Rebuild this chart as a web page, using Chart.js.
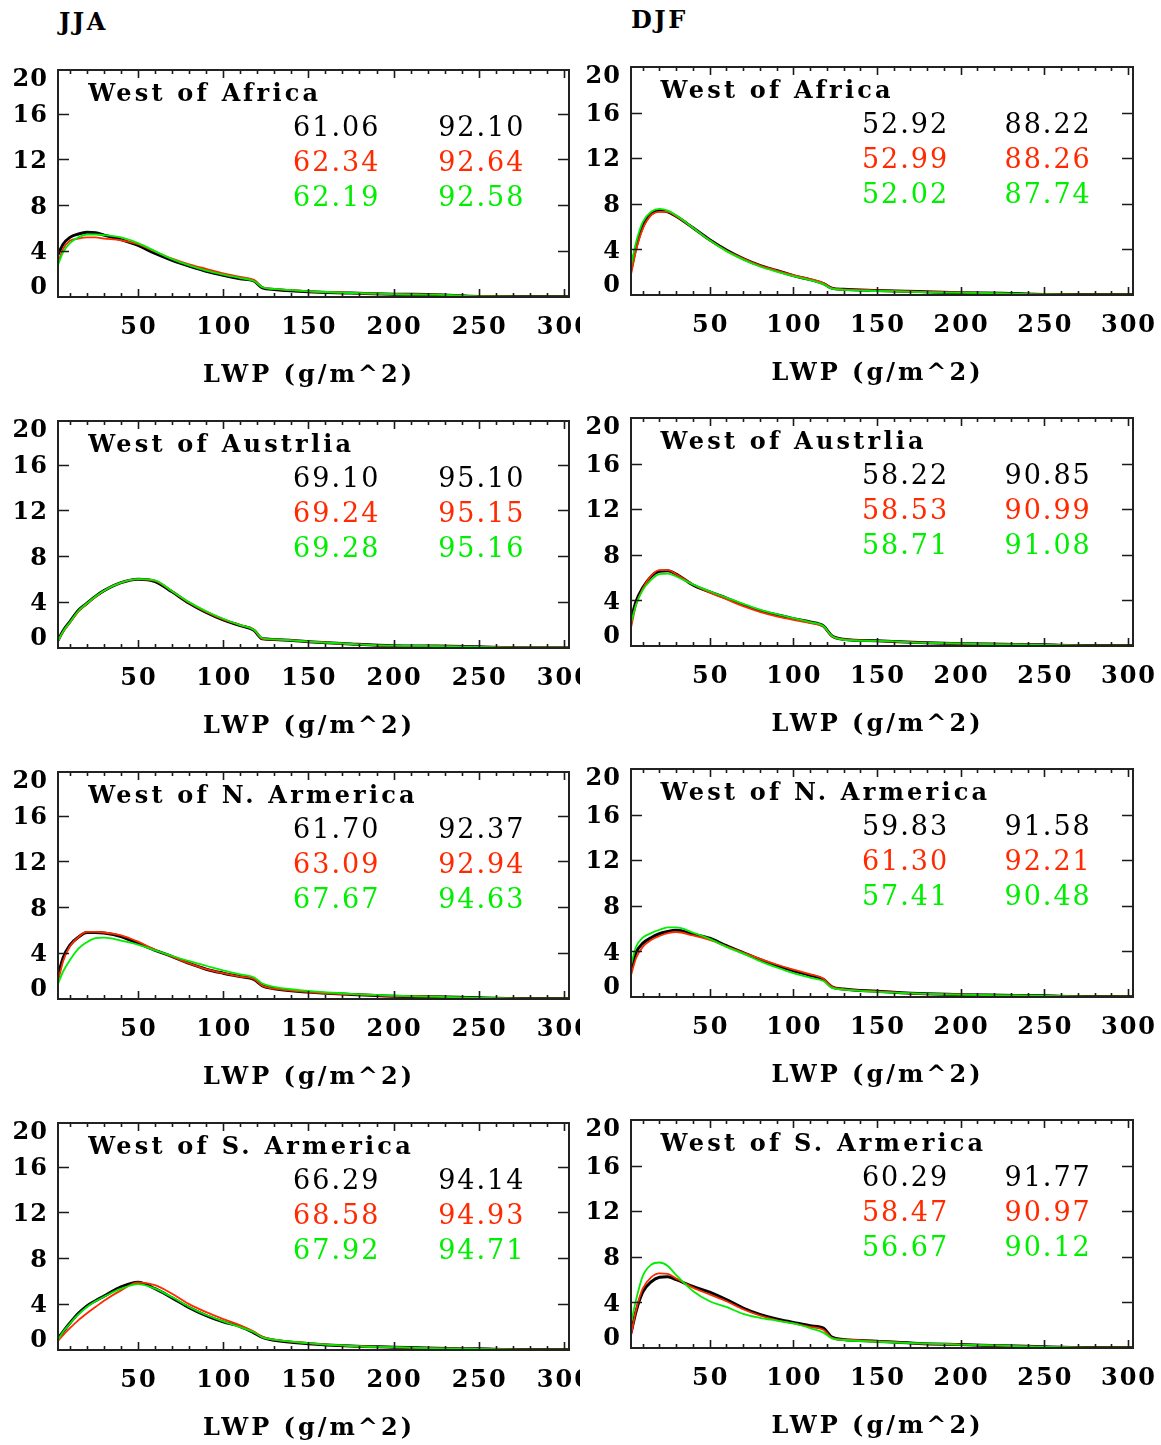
<!DOCTYPE html>
<html><head><meta charset="utf-8">
<script src="https://cdn.jsdelivr.net/npm/chart.js@4.4.0/dist/chart.umd.min.js"></script>
<style>
html,body{margin:0;padding:0;background:#fff;}
#wrap{position:relative;width:1161px;height:1445px;overflow:hidden;background:#fff;}
canvas{position:absolute;}
.hdr{position:absolute;font:bold 24px "DejaVu Serif";line-height:24px;letter-spacing:2.5px;color:#000;}
</style></head><body><div id="wrap">
<div class="hdr" style="left:59px;top:10px">JJA</div>
<div class="hdr" style="left:631px;top:8px">DJF</div>
</div>
<script>
// ---------- data ----------
const LWP = [3,6,10,15,20,25,30,40,50,60,70,80,90,100,110,118,123,130,150,175,200,225,250,275,303];
const X_TICKS = [50,100,150,200,250,300];
const Y_TICKS = [0,4,8,12,16,20];
const SEASONS = ['JJA','DJF'];
const REGIONS = ['West of Africa','West of Austrlia','West of N. Armerica','West of S. Armerica'];
const X_TITLE = 'LWP (g/m^2)';

// frequency (%) per LWP bin: black, red, green
const JJA_AFRICA_K = [3.7,4.6,5.2,5.5,5.65,5.6,5.4,5.0,4.5,3.8,3.2,2.7,2.25,1.9,1.6,1.4,0.8,0.65,0.45,0.35,0.25,0.2,0.05,0.04,0.04];
const JJA_AFRICA_R = [3.0,4.2,4.9,5.1,5.2,5.2,5.1,4.95,4.6,3.95,3.35,2.85,2.45,2.05,1.75,1.5,0.85,0.7,0.5,0.35,0.25,0.2,0.05,0.04,0.04];
const JJA_AFRICA_G = [2.8,3.9,4.7,5.2,5.45,5.45,5.4,5.2,4.7,4.0,3.3,2.75,2.3,1.95,1.65,1.4,0.85,0.7,0.5,0.35,0.25,0.2,0.05,0.04,0.04];
const DJF_AFRICA_K = [2.2,4.2,6.0,7.1,7.4,7.3,6.9,5.9,4.85,3.95,3.2,2.6,2.15,1.7,1.35,1.0,0.6,0.5,0.4,0.3,0.2,0.15,0.05,0.04,0.04];
const DJF_AFRICA_R = [1.8,3.9,5.8,7.0,7.3,7.3,6.9,5.9,4.8,3.9,3.2,2.6,2.15,1.75,1.4,1.05,0.6,0.5,0.4,0.3,0.2,0.15,0.05,0.04,0.04];
const DJF_AFRICA_G = [2.5,4.6,6.4,7.3,7.55,7.4,7.0,5.9,4.8,3.85,3.1,2.5,2.05,1.65,1.3,0.95,0.55,0.45,0.35,0.25,0.2,0.15,0.05,0.04,0.04];
const JJA_AUSTRLIA_K = [0.65,1.5,2.3,3.3,3.9,4.5,5.0,5.7,6.0,5.8,4.9,3.9,3.1,2.45,1.95,1.55,0.8,0.75,0.55,0.35,0.2,0.17,0.1,0.03,0.03];
const JJA_AUSTRLIA_R = [0.6,1.4,2.2,3.2,3.85,4.45,5.0,5.7,6.0,5.85,4.95,3.95,3.15,2.5,2.0,1.6,0.8,0.75,0.55,0.35,0.2,0.17,0.1,0.03,0.03];
const JJA_AUSTRLIA_G = [0.6,1.45,2.25,3.25,3.9,4.5,5.0,5.7,6.0,5.9,4.95,4.0,3.2,2.55,2.0,1.6,0.85,0.75,0.55,0.35,0.2,0.17,0.1,0.03,0.03];
const DJF_AUSTRLIA_K = [2.3,3.9,5.1,6.1,6.55,6.6,6.3,5.35,4.75,4.2,3.6,3.1,2.75,2.4,2.1,1.75,0.9,0.6,0.45,0.3,0.2,0.15,0.1,0.04,0.04];
const DJF_AUSTRLIA_R = [1.6,3.6,5.0,6.15,6.65,6.65,6.3,5.4,4.7,4.1,3.5,3.0,2.6,2.3,2.0,1.7,0.85,0.6,0.45,0.3,0.2,0.15,0.1,0.04,0.04];
const DJF_AUSTRLIA_G = [2.0,3.6,4.9,5.8,6.3,6.35,6.1,5.4,4.8,4.25,3.7,3.2,2.8,2.45,2.1,1.75,0.9,0.55,0.45,0.3,0.2,0.15,0.1,0.04,0.04];
const JJA_NAMERICA_K = [2.0,3.6,4.7,5.4,5.8,5.8,5.75,5.45,4.85,4.25,3.7,3.1,2.6,2.25,1.95,1.7,1.15,0.9,0.6,0.4,0.25,0.2,0.1,0.04,0.04];
const JJA_NAMERICA_R = [1.5,3.3,4.6,5.4,5.85,5.85,5.8,5.55,5.0,4.3,3.7,3.1,2.6,2.25,1.95,1.75,1.15,0.9,0.6,0.4,0.25,0.2,0.1,0.04,0.04];
const JJA_NAMERICA_G = [1.3,2.4,3.4,4.4,4.95,5.3,5.35,5.1,4.75,4.25,3.75,3.3,2.9,2.5,2.15,1.9,1.35,1.05,0.7,0.45,0.3,0.2,0.1,0.04,0.04];
const DJF_NAMERICA_K = [2.4,3.9,4.7,5.2,5.55,5.75,5.85,5.5,5.15,4.5,3.9,3.3,2.75,2.3,1.9,1.55,0.9,0.7,0.5,0.3,0.2,0.15,0.1,0.04,0.04];
const DJF_NAMERICA_R = [1.9,3.4,4.4,5.0,5.35,5.6,5.7,5.4,5.0,4.45,3.9,3.35,2.85,2.4,2.0,1.6,0.9,0.7,0.5,0.3,0.2,0.15,0.1,0.04,0.04];
const DJF_NAMERICA_G = [2.8,4.4,5.2,5.6,5.9,6.1,6.1,5.65,5.1,4.4,3.8,3.15,2.6,2.1,1.7,1.4,0.8,0.65,0.45,0.3,0.2,0.15,0.1,0.04,0.04];
const JJA_SAMERICA_K = [1.0,1.6,2.35,3.2,3.85,4.3,4.7,5.5,5.9,5.35,4.55,3.7,3.0,2.45,2.05,1.5,1.1,0.85,0.55,0.35,0.25,0.15,0.1,0.04,0.04];
const JJA_SAMERICA_R = [0.8,1.3,1.9,2.6,3.2,3.75,4.3,5.2,5.9,5.65,4.9,4.0,3.3,2.7,2.15,1.6,1.15,0.9,0.6,0.35,0.25,0.15,0.1,0.04,0.04];
const JJA_SAMERICA_G = [0.9,1.6,2.3,3.1,3.75,4.25,4.65,5.35,5.75,5.35,4.6,3.75,3.05,2.5,2.0,1.55,1.1,0.9,0.6,0.35,0.25,0.15,0.1,0.04,0.04];
const DJF_SAMERICA_K = [1.3,3.2,4.9,5.8,6.2,6.25,6.0,5.4,4.9,4.25,3.5,2.95,2.55,2.25,1.95,1.75,0.95,0.75,0.6,0.4,0.3,0.2,0.1,0.04,0.04];
const DJF_SAMERICA_R = [1.1,3.3,5.2,6.2,6.55,6.5,6.1,5.3,4.7,4.1,3.4,2.85,2.45,2.15,1.85,1.6,0.9,0.75,0.6,0.4,0.3,0.2,0.1,0.04,0.04];
const DJF_SAMERICA_G = [2.2,4.2,6.3,7.3,7.5,7.2,6.4,5.0,4.1,3.6,3.0,2.65,2.4,2.15,1.75,1.35,0.85,0.7,0.55,0.4,0.3,0.2,0.1,0.04,0.04];

// statistics printed in each panel: rows black, red, green
const JJA_AFRICA_STATS = [['61.06','92.10'],['62.34','92.64'],['62.19','92.58']];
const DJF_AFRICA_STATS = [['52.92','88.22'],['52.99','88.26'],['52.02','87.74']];
const JJA_AUSTRLIA_STATS = [['69.10','95.10'],['69.24','95.15'],['69.28','95.16']];
const DJF_AUSTRLIA_STATS = [['58.22','90.85'],['58.53','90.99'],['58.71','91.08']];
const JJA_NAMERICA_STATS = [['61.70','92.37'],['63.09','92.94'],['67.67','94.63']];
const DJF_NAMERICA_STATS = [['59.83','91.58'],['61.30','92.21'],['57.41','90.48']];
const JJA_SAMERICA_STATS = [['66.29','94.14'],['68.58','94.93'],['67.92','94.71']];
const DJF_SAMERICA_STATS = [['60.29','91.77'],['58.47','90.97'],['56.67','90.12']];

const SERIES_COLORS = ['#000000','#ff2a00','#00ee00'];
const SERIES_WIDTHS = [3,1.8,1.8];

// ---------- panel table ----------
const PANELS = [
  [JJA_AFRICA_K,JJA_AFRICA_R,JJA_AFRICA_G,JJA_AFRICA_STATS],
  [DJF_AFRICA_K,DJF_AFRICA_R,DJF_AFRICA_G,DJF_AFRICA_STATS],
  [JJA_AUSTRLIA_K,JJA_AUSTRLIA_R,JJA_AUSTRLIA_G,JJA_AUSTRLIA_STATS],
  [DJF_AUSTRLIA_K,DJF_AUSTRLIA_R,DJF_AUSTRLIA_G,DJF_AUSTRLIA_STATS],
  [JJA_NAMERICA_K,JJA_NAMERICA_R,JJA_NAMERICA_G,JJA_NAMERICA_STATS],
  [DJF_NAMERICA_K,DJF_NAMERICA_R,DJF_NAMERICA_G,DJF_NAMERICA_STATS],
  [JJA_SAMERICA_K,JJA_SAMERICA_R,JJA_SAMERICA_G,JJA_SAMERICA_STATS],
  [DJF_SAMERICA_K,DJF_SAMERICA_R,DJF_SAMERICA_G,DJF_SAMERICA_STATS]
];

// ---------- drawing helpers ----------
const SERIF = '"DejaVu Serif", "Liberation Serif", serif';
function drawText(ctx, s, x, y, font, color, align, spacing){
  ctx.font = font; ctx.fillStyle = color; ctx.textAlign = align; ctx.textBaseline = 'middle';
  ctx.letterSpacing = spacing + 'px';
  let dx = 0;
  if (align === 'center') dx = spacing/2;
  if (align === 'right') dx = spacing;
  ctx.fillText(s, x + dx, y);
}

const framePlugin = {
  id: 'frame',
  beforeDraw(chart){
    const ctx = chart.ctx;
    ctx.save(); ctx.fillStyle = '#fff'; ctx.fillRect(0,0,chart.width,chart.height); ctx.restore();
  },
  afterDraw(chart, args, o){
    const ctx = chart.ctx, a = chart.chartArea, xs = chart.scales.x, ys = chart.scales.y;
    const w = a.right - a.left;
    ctx.save();
    // ticks
    ctx.strokeStyle = '#1a1a1a'; ctx.lineWidth = 1.6; ctx.lineCap = 'butt';
    ctx.beginPath();
    for (let v = 10; v <= xs.max; v += 10) {
      const px = Math.round(xs.getPixelForValue(v)) + 0.5;
      const len = (v % 50 === 0) ? 8 : 4;
      ctx.moveTo(px, a.bottom); ctx.lineTo(px, a.bottom - len);
      ctx.moveTo(px, a.top); ctx.lineTo(px, a.top + len);
    }
    Y_TICKS.forEach(v => {
      if (v <= ys.min || v >= ys.max) return;
      const py = Math.round(ys.getPixelForValue(v)) + 0.5;
      ctx.moveTo(a.left, py); ctx.lineTo(a.left + 11, py);
      ctx.moveTo(a.right, py); ctx.lineTo(a.right - 11, py);
    });
    ctx.stroke();
    // box
    ctx.lineWidth = 2; ctx.strokeStyle = '#222';
    ctx.strokeRect(a.left, a.top, w, a.bottom - a.top);
    // y tick labels
    const tickFont = 'bold 24px ' + SERIF;
    Y_TICKS.forEach(v => {
      let py = ys.getPixelForValue(v) + 2;
      if (v === Y_TICKS[Y_TICKS.length-1]) py = a.top + 10;
      if (v === Y_TICKS[0]) py = a.bottom - 9;
      drawText(ctx, String(v), a.left - 11, py, tickFont, '#000', 'right', 1);
    });
    // x tick labels
    X_TICKS.forEach(v => {
      drawText(ctx, String(v), xs.getPixelForValue(v), a.bottom + 31, tickFont, '#000', 'center', 2);
    });
    // x title
    drawText(ctx, X_TITLE, (a.left + a.right)/2 - 6, a.bottom + 79, 'bold 24px ' + SERIF, '#000', 'center', 3);
    // region name
    drawText(ctx, o.region, a.left + 0.059*w, a.top + 25, 'bold 24px ' + SERIF, '#000', 'left', 3.2);
    // statistics
    o.stats.forEach((row, i) => {
      const py = a.top + 59 + 35*i;
      drawText(ctx, row[0], a.left + 0.46*w, py, '27px ' + SERIF, SERIES_COLORS[i], 'left', 2);
      drawText(ctx, row[1], a.left + 0.744*w, py, '27px ' + SERIF, SERIES_COLORS[i], 'left', 2);
    });
    ctx.restore();
  }
};

// ---------- build charts ----------
const wrap = document.getElementById('wrap');
PANELS.forEach((p, idx) => {
  const col = idx % 2, row = Math.floor(idx / 2);
  const cv = document.createElement('canvas');
  const cw = col === 0 ? 580 : 581, ch = 351;
  cv.width = cw; cv.height = ch;
  cv.style.left = (col === 0 ? 0 : 580) + 'px';
  cv.style.top = (40 + 351*row) + 'px';
  cv.style.width = cw + 'px'; cv.style.height = ch + 'px';
  wrap.appendChild(cv);
  const pad = col === 0 ? {left:58,right:11,top:30,bottom:94} : {left:51,right:28,top:27,bottom:96};
  const datasets = [0,1,2].map(s => ({
    label: SEASONS[col] + ' ' + s,
    data: LWP.map((x, i) => ({x: x, y: p[s][i]})),
    borderColor: SERIES_COLORS[s],
    borderWidth: SERIES_WIDTHS[s],
    pointRadius: 0,
    fill: false,
    cubicInterpolationMode: 'monotone',
    order: 3 - s
  }));
  new Chart(cv, {
    type: 'line',
    data: {datasets},
    options: {
      responsive: false, animation: false, devicePixelRatio: 1, events: [],
      layout: {padding: pad},
      plugins: {legend:{display:false}, tooltip:{enabled:false},
        frame: {region: REGIONS[row], stats: p[3]}},
      scales: {
        x: {type:'linear', min:3, max:303, display:false},
        y: {type:'linear', min:0, max: col === 0 ? 19.8 : 20, display:false}
      }
    },
    plugins: [framePlugin]
  });
});
</script>
</body></html>
